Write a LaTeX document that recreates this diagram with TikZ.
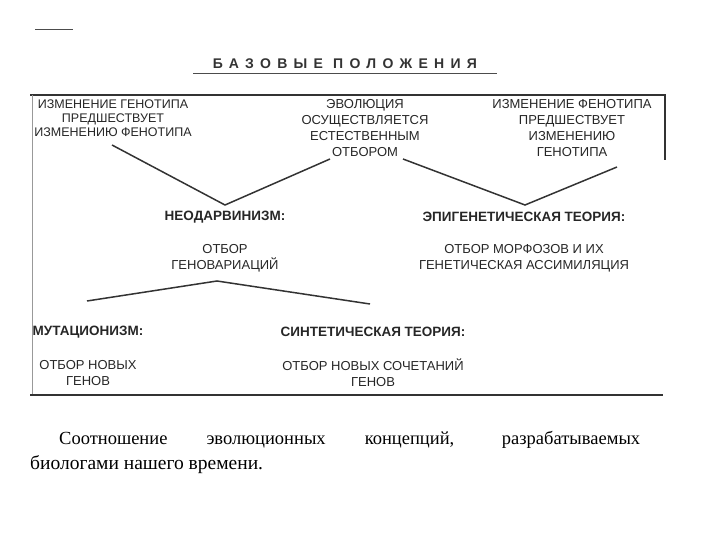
\documentclass[tikz,border=0pt]{standalone}
\usepackage{fontspec}
\setmainfont{Liberation Serif}
\newfontfamily\dsans{Liberation Sans}
\newfontfamily\dtitle[LetterSpace=45]{Liberation Sans Bold}
\begin{document}
\begin{tikzpicture}[x=1pt,y=-1pt,
  txt/.style={font=\dsans\fontsize{13}{16.3}\selectfont,align=center,inner sep=0pt,text=black!85},
  txts/.style={font=\dsans\fontsize{12.5}{14}\selectfont,align=center,inner sep=0pt,text=black!85},
  hd/.style={font=\dsans\bfseries\fontsize{13.5}{14}\selectfont,inner sep=0pt,text=black!85},
  ln/.style={line width=1.5pt,black!80}]
\useasboundingbox (0,0) rectangle (720,540);
\draw[line width=1pt,black!70] (35,30) -- (73,30);
\node[font=\dtitle\fontsize{14}{15}\selectfont,inner sep=0pt,text=black!80] (title) at (345,64) {БАЗОВЫЕ ПОЛОЖЕНИЯ};
\draw[line width=1pt,black!70] (193,74) -- (497,74);
\draw[line width=1.2pt,black!80] (30,95) -- (665,95) -- (665,160);
\draw[line width=0.8pt,black!40] (32,95) -- (32,395);
\draw[line width=1.2pt,black!80] (30,395) -- (663,395);
\node[txts] (a) at (113,118) {ИЗМЕНЕНИЕ ГЕНОТИПА\\ПРЕДШЕСТВУЕТ\\ИЗМЕНЕНИЮ ФЕНОТИПА};
\node[txt] (b) at (365,128) {ЭВОЛЮЦИЯ\\ОСУЩЕСТВЛЯЕТСЯ\\ЕСТЕСТВЕННЫМ\\ОТБОРОМ};
\node[txt] (c) at (572,128) {ИЗМЕНЕНИЕ ФЕНОТИПА\\ПРЕДШЕСТВУЕТ\\ИЗМЕНЕНИЮ\\ГЕНОТИПА};
\node[hd] (nd) at (225,217) {НЕОДАРВИНИЗМ:};
\node[hd] (ep) at (524,217) {ЭПИГЕНЕТИЧЕСКАЯ ТЕОРИЯ:};
\node[txt] (nd2) at (225,258) {ОТБОР\\ГЕНОВАРИАЦИЙ};
\node[txt] (ep2) at (524,258) {ОТБОР МОРФОЗОВ И ИХ\\ГЕНЕТИЧЕСКАЯ АССИМИЛЯЦИЯ};
\node[hd] (mu) at (88,332) {МУТАЦИОНИЗМ:};
\node[hd] (si) at (373,332) {СИНТЕТИЧЕСКАЯ ТЕОРИЯ:};
\node[txt] (mu2) at (88,373) {ОТБОР НОВЫХ\\ГЕНОВ};
\node[txt] (si2) at (373,373) {ОТБОР НОВЫХ СОЧЕТАНИЙ\\ГЕНОВ};
\coordinate (v1) at (225,205);
\coordinate (v2) at (525,205);
\coordinate (v3) at (217,281);
\draw[ln] (112,145) -- (v1) -- (330,159);
\draw[ln] (403,159) -- (v2) -- (617,167);
\draw[ln] (87,301) -- (v3) -- (370,304);
\node[font=\fontsize{18.5}{22}\selectfont,inner sep=0pt,anchor=base west] (cap1) at (59,444)
 {\makebox[581pt][s]{Соотношение эволюционных концепций, разрабатываемых}};
\node[font=\fontsize{19.5}{22}\selectfont,inner sep=0pt,anchor=base west] (cap2) at (30,469)
 {биологами нашего времени.};
\end{tikzpicture}
\end{document}
